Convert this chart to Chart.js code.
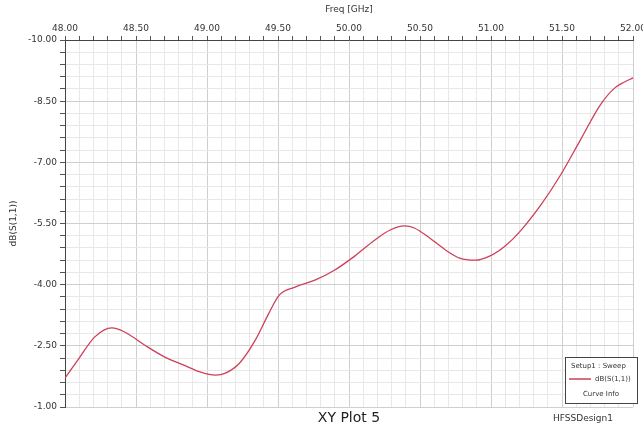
<!DOCTYPE html>
<html>
<head>
<meta charset="utf-8">
<script src="https://cdn.jsdelivr.net/npm/chart.js@4.4.1/dist/chart.umd.min.js"></script>
<style>
  html, body { margin: 0; padding: 0; background: #fff; }
  #wrap { width: 643px; height: 428px; }
</style>
</head>
<body>
<div id="wrap"><canvas id="xyPlot"></canvas></div>
<script>
// Frequency sweep (GHz) and dB(S(1,1))
const freqGHz = [48.00, 48.10, 48.21, 48.33, 48.42, 48.56, 48.70, 48.85, 48.95, 49.06, 49.13,
                 49.23, 49.34, 49.43, 49.51, 49.62, 49.76, 49.90, 50.04, 50.18, 50.29, 50.39,
                 50.46, 50.57, 50.68, 50.78, 50.89, 50.99, 51.10, 51.20, 51.35, 51.49, 51.63,
                 51.77, 51.87, 51.94, 52.00];
const s11dB = [-1.71, -2.20, -2.72, -2.94, -2.84, -2.52, -2.23, -2.01, -1.86, -1.78, -1.83,
               -2.08, -2.64, -3.26, -3.75, -3.94, -4.11, -4.36, -4.70, -5.09, -5.34, -5.44,
               -5.39, -5.14, -4.85, -4.65, -4.60, -4.70, -4.95, -5.29, -5.95, -6.69, -7.55,
               -8.41, -8.82, -8.97, -9.07];

// axis labels
const xTickLabels = ["48.00", "48.50", "49.00", "49.50", "50.00", "50.50", "51.00", "51.50", "52.00"];
const yTickLabels = ["-10.00", "-8.50", "-7.00", "-5.50", "-4.00", "-2.50", "-1.00"];

const plotTitle = "XY Plot 5";
const designName = "HFSSDesign1";
const curveName = "dB(S(1,1))";
const setupName = "Setup1 : Sweep";

const xMin = 48, xMax = 52, yMin = -10, yMax = -1;
const MINOR = 5; // minor divisions per major

// curve colour
const curveColor = "#cc4058";

// title, legend box and design name along the bottom (picture is flipped top-to-bottom)
const cornerText = {
  id: "cornerText",
  afterDraw(chart) {
    const { ctx, chartArea } = chart;
    ctx.save();
    ctx.fillStyle = "#222";
    ctx.font = "14px 'DejaVu Sans'";
    ctx.textAlign = "center";
    ctx.textBaseline = "middle";
    ctx.fillText(plotTitle, (chartArea.left + chartArea.right) / 2, chartArea.bottom + 11);

    const bx = chartArea.right - 68, by = chartArea.bottom - 50, bw = 72, bh = 46;
    ctx.fillStyle = "#fff";
    ctx.fillRect(bx, by, bw, bh);
    ctx.strokeStyle = "#444";
    ctx.lineWidth = 1;
    ctx.strokeRect(bx + 0.5, by + 0.5, bw, bh);
    ctx.fillStyle = "#333";
    ctx.font = "7px 'DejaVu Sans'";
    ctx.textAlign = "left";
    ctx.fillText(setupName, bx + 6, by + 9);
    ctx.fillText(curveName, bx + 30, by + 22);
    ctx.textAlign = "center";
    ctx.fillText("Curve Info", bx + bw / 2, by + 37);
    ctx.strokeStyle = curveColor;
    ctx.lineWidth = 1.5;
    ctx.beginPath();
    ctx.moveTo(bx + 4, by + 22);
    ctx.lineTo(bx + 26, by + 22);
    ctx.stroke();
    ctx.textAlign = "left";
    ctx.fillStyle = "#333";
    ctx.font = "9px 'DejaVu Sans'";
    ctx.fillText(designName, chartArea.right - 80, chartArea.bottom + 12);
    ctx.restore();
  }
};

new Chart(document.getElementById("xyPlot"), {
  type: "scatter",
  data: {
    datasets: [{
      label: curveName,
      data: freqGHz.map((f, i) => ({ x: f, y: s11dB[i] })),
      showLine: true,
      borderColor: curveColor,
      borderWidth: 1.3,
      pointRadius: 0,
      tension: 0.4,
      cubicInterpolationMode: "monotone"
    }]
  },
  options: {
    responsive: true,
    maintainAspectRatio: false,
    animation: false,
    layout: { padding: { left: 8, right: 10, top: 0, bottom: 21 } },
    plugins: {
      legend: { display: false },
      tooltip: { enabled: false },
      title: { display: false }
    },
    scales: {
      x: {
        type: "linear",
        position: "top",
        min: xMin,
        max: xMax,
        afterBuildTicks(scale) {
          const t = [];
          for (let i = 0; i <= (xTickLabels.length - 1) * MINOR; i++) {
            t.push({ value: xMin + i * (xMax - xMin) / ((xTickLabels.length - 1) * MINOR) });
          }
          scale.ticks = t;
        },
        afterFit(scale) {
          scale.height = 40;
          scale.paddingLeft = 0;
          scale.paddingRight = 0;
        },
        ticks: {
          autoSkip: false,
          maxRotation: 0,
          color: "#333",
          font: { family: "'DejaVu Sans'", size: 9 },
          padding: 2,
          callback: (v, i) => (i % MINOR === 0 ? xTickLabels[i / MINOR] : "")
        },
        grid: {
          color: (c) => (c.index % MINOR === 0 ? "#cfcfcf" : "#e8e8e8"),
          lineWidth: 1,
          tickColor: "#555",
          tickLength: 4
        },
        border: { color: "#444", width: 1 },
        title: {
          display: true,
          text: "Freq [GHz]",
          color: "#333",
          font: { family: "'DejaVu Sans'", size: 9 },
          padding: { top: 4, bottom: 0 }
        }
      },
      y: {
        type: "linear",
        reverse: true,
        min: yMin,
        max: yMax,
        afterBuildTicks(scale) {
          const t = [];
          for (let i = 0; i <= (yTickLabels.length - 1) * MINOR; i++) {
            t.push({ value: yMin + i * (yMax - yMin) / ((yTickLabels.length - 1) * MINOR) });
          }
          scale.ticks = t;
        },
        afterFit(scale) {
          scale.width = 57;
          scale.paddingTop = 0;
          scale.paddingBottom = 0;
        },
        ticks: {
          autoSkip: false,
          color: "#333",
          font: { family: "'DejaVu Sans'", size: 9 },
          padding: 3,
          callback: (v, i) => (i % MINOR === 0 ? yTickLabels[i / MINOR] : "")
        },
        grid: {
          color: (c) => (c.index % MINOR === 0 ? "#cfcfcf" : "#e8e8e8"),
          lineWidth: 1,
          tickColor: "#555",
          tickLength: 5
        },
        border: { color: "#444", width: 1 },
        title: {
          display: true,
          text: "dB(S(1,1))",
          color: "#333",
          font: { family: "'DejaVu Sans'", size: 9 },
          padding: { top: 0, bottom: 0 }
        }
      }
    }
  },
  plugins: [cornerText]
});
</script>
</body>
</html>
